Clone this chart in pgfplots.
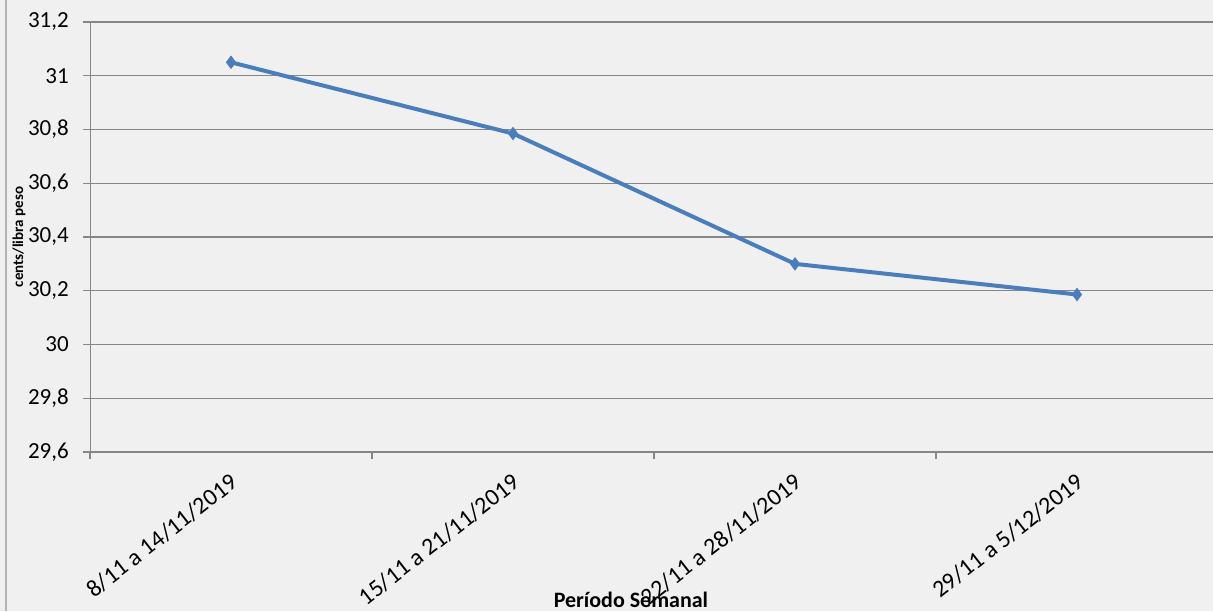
\documentclass[border=0pt]{standalone}
\usepackage{fontspec}
\setmainfont{Carlito}
\usepackage{pgfplots}
\pgfplotsset{compat=1.18}
\definecolor{bgc}{HTML}{F0F0F0}
\definecolor{gridc}{HTML}{868686}
\definecolor{ser}{HTML}{4A7EBB}
\begin{document}
\begin{tikzpicture}[x=1pt,y=1pt]
\fill[bgc] (0,0) rectangle (1213,611);
\useasboundingbox (0,0) rectangle (1213,611);
\draw[color=gray!60, line width=1.2pt] (6,0) -- (6,611);
\begin{scope}
\clip (0,0) rectangle (1213,611);
\begin{axis}[
  at={(90pt,159pt)}, anchor=south west,
  scale only axis, width=1123pt, height=430pt,
  xmin=-0.5, xmax=3.4823, ymin=29.6, ymax=31.2,
  axis line style={draw=none},
  xtick={-0.5,0.5,1.5,2.5}, xticklabels={,,,},
  ytick={29.6,29.8,30,30.2,30.4,30.6,30.8,31,31.2},
  /pgf/number format/assume math mode=true,
  yticklabel={\pgfmathprintnumber[fixed,precision=1,use comma,assume math mode=true]{\tick}},
  tick pos=left, tick align=outside, major tick length=7pt,
  tick style={draw=gridc, line width=1.2pt},
  ymajorgrids, grid style={draw=gridc, line width=1.3pt},
  ticklabel style={font=\fontsize{23}{27}\selectfont},
  yticklabel style={anchor=east, inner sep=0pt, xshift=-14pt},
  extra x ticks={0,1,2,3},
  extra x tick labels={8/11 a 14/11/2019,15/11 a 21/11/2019,22/11 a 28/11/2019,29/11 a 5/12/2019},
  extra x tick style={major tick length=0pt, grid=none,
     tick label style={xshift=-2pt, yshift=-20pt, rotate=38, anchor=north east, inner sep=0pt, font=\fontsize{24}{28}\selectfont}},
  xlabel={Período Semanal},
  xlabel style={at={(axis description cs:0.4817,-0.3605)}, anchor=base, inner sep=0pt, font=\bfseries\fontsize{22}{26}\selectfont},
  ylabel={cents/libra peso},
  ylabel style={at={(axis description cs:-0.0632,0.5)}, anchor=center, inner sep=0pt, font=\bfseries\fontsize{15}{18}\selectfont},
]
\draw[gridc, line width=1.3pt] (axis cs:-0.5,29.6) -- (axis cs:-0.5,31.2);
\addplot[color=ser, line width=4pt, mark=diamond*, mark size=6pt, mark options={solid, fill=ser, line width=1pt}]
  coordinates {(0,31.05) (1,30.785) (2,30.30) (3,30.186)};
\end{axis}
\end{scope}
\end{tikzpicture}
\end{document}
